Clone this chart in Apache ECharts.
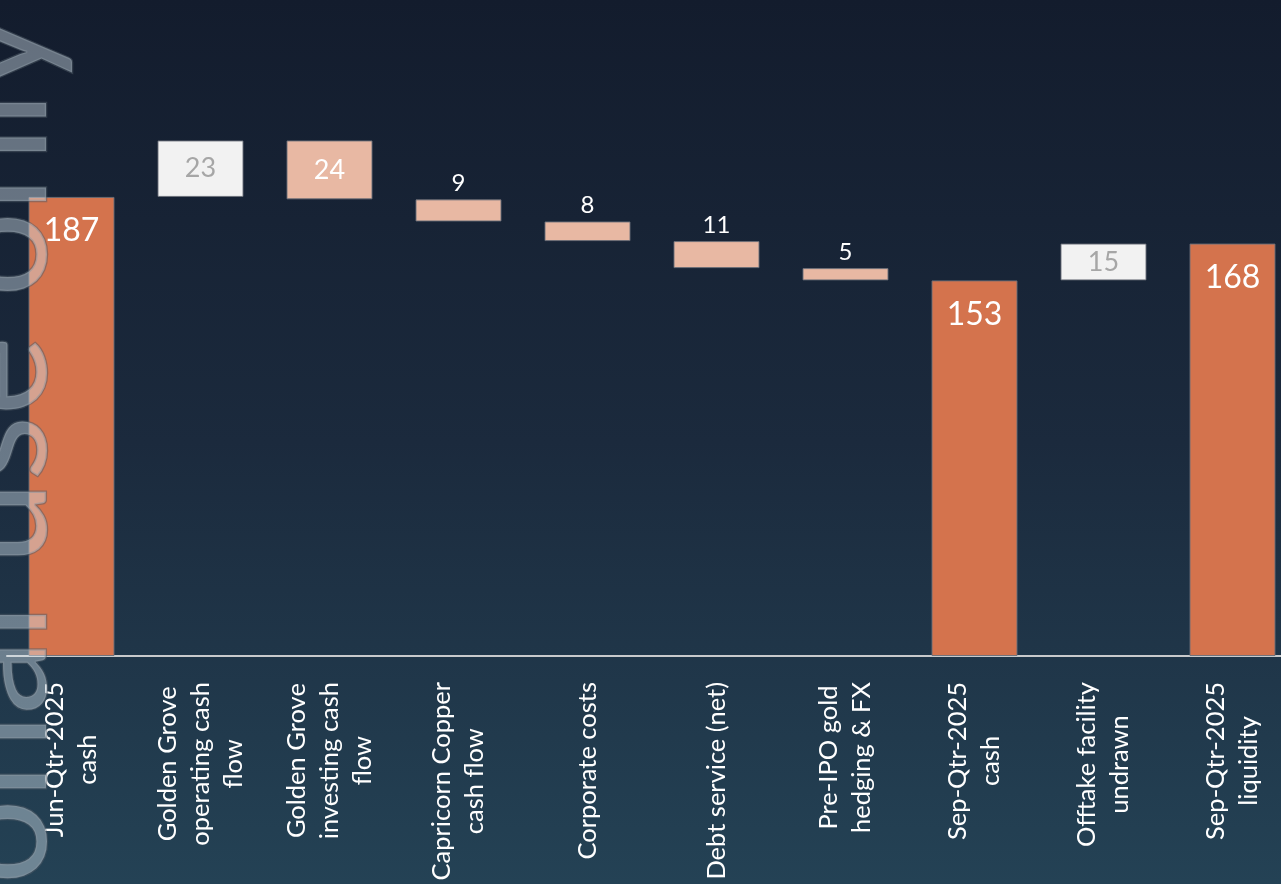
<!DOCTYPE html>
<html>
<head>
<meta charset="utf-8">
<script src="https://cdn.jsdelivr.net/npm/echarts@6/dist/echarts.min.js"></script>
<style>
html,body{margin:0;padding:0;width:1281px;height:884px;overflow:hidden;background:#1b2a3c;}
#chart{width:1281px;height:884px;}
</style>
</head>
<body>
<div id="chart"></div>
<script>
// ---- data ----
const categories = [
  'Jun-Qtr-2025\ncash',
  'Golden Grove\noperating cash\nflow',
  'Golden Grove\ninvesting cash\nflow',
  'Capricorn Copper\ncash flow',
  'Corporate costs',
  'Debt service (net)',
  'Pre-IPO gold\nhedging & FX',
  'Sep-Qtr-2025\ncash',
  'Offtake facility\nundrawn',
  'Sep-Qtr-2025\nliquidity'
];
const values = [187, 23, -24, -9, -8, -11, -5, 153, 15, 168];
const kinds = ['total', 'delta', 'delta', 'delta', 'delta', 'delta', 'delta', 'total', 'delta', 'total'];
const watermarkText = 'For personal use only';

// ---- build waterfall ----
const ORANGE = '#D4734D', PEACH = '#E8B8A3', WHITE = '#F2F2F2';
const baseData = [], barData = [];
let running = 0;
values.forEach((v, i) => {
  let base, h;
  if (kinds[i] === 'total') { base = 0; h = v; running = v; }
  else { const next = running + v; base = Math.min(running, next); h = Math.abs(v); running = next; }
  baseData.push(base);
  let color, label;
  if (kinds[i] === 'total') {
    color = ORANGE;
    label = { position: 'insideTop', distance: 18, color: '#ffffff', fontSize: 32 };
  } else if (v > 0) {
    color = WHITE;
    label = { position: 'inside', color: '#A6A6A6', fontSize: 27 };
  } else if (h >= 15) {
    color = PEACH;
    label = { position: 'inside', color: '#ffffff', fontSize: 27 };
  } else {
    color = PEACH;
    label = { position: 'top', distance: 4, color: '#ffffff', fontSize: 24 };
  }
  barData.push({ value: h, itemStyle: { color }, label });
});

const chart = echarts.init(document.getElementById('chart'));
chart.setOption({
  backgroundColor: new echarts.graphic.LinearGradient(0, 0, 0, 1, [
    { offset: 0, color: '#131C2D' },
    { offset: 0.5, color: '#1B2A3D' },
    { offset: 1, color: '#244255' }
  ]),
  animation: false,
  grid: { left: 7, width: 1290, top: 42.25, height: 613.75, outerBoundsMode: 'none', containLabel: false },
  xAxis: {
    type: 'category',
    data: categories,
    axisTick: { show: false },
    axisLine: { lineStyle: { color: '#C8CACC', width: 2 } },
    axisLabel: {
      interval: 0,
      rotate: 90,
      margin: 26,
      hideOverlap: false,
      formatter: v => v.split('\n').map(s => '{c|' + s + '}').join('\n'),
      rich: {
        c: { align: 'center', color: '#ffffff', fontSize: 25.5, lineHeight: 33, fontFamily: 'Lato' }
      }
    }
  },
  yAxis: { type: 'value', min: 0, max: 250, show: false, splitLine: { show: false } },
  series: [
    {
      type: 'bar', stack: 'w', data: baseData, barWidth: 86,
      itemStyle: { color: 'rgba(0,0,0,0)' }, silent: true
    },
    {
      type: 'bar', stack: 'w', data: barData, barWidth: 86,
      itemStyle: { borderColor: 'rgba(105,110,120,0.9)', borderWidth: 1 },
      label: { show: true, fontFamily: 'Lato', formatter: p => String(Math.abs(values[p.dataIndex])) }
    }
  ],
  graphic: [{
    type: 'text',
    x: -3, y: 14,
    rotation: Math.PI / 2,
    z: 100,
    silent: true,
    style: {
      text: watermarkText,
      font: '400 151px Lato',
      align: 'right',
      verticalAlign: 'middle',
      fill: 'rgba(215,228,238,0.42)',
      stroke: 'rgba(80,92,104,0.5)',
      lineWidth: 2.5
    }
  }]
});
</script>
</body>
</html>
